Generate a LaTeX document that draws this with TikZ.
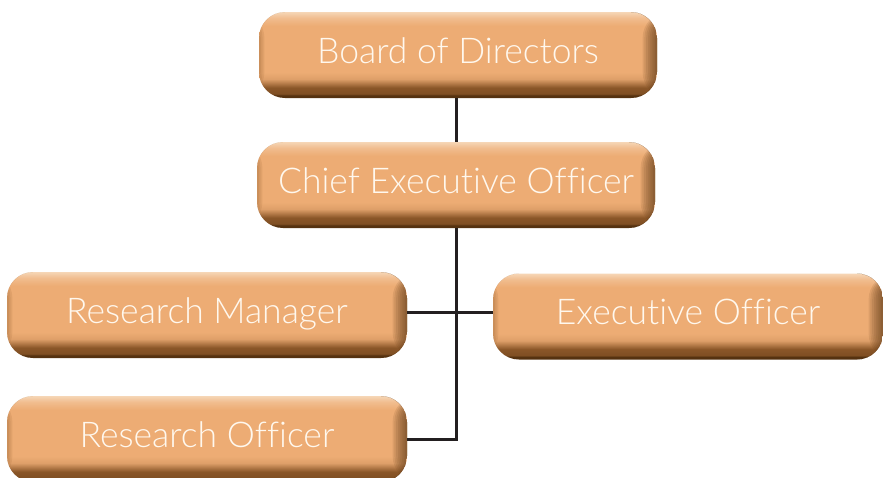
\documentclass[tikz,border=0pt]{standalone}
\usepackage{fontspec}
\setmainfont{Lato}[UprightFont={* Light},Ligatures=NoCommon]
\definecolor{boxmid}{HTML}{EDAC74}
\definecolor{boxtop}{HTML}{F6D6B6}
\definecolor{boxdark}{HTML}{553210}
\definecolor{boxbrown}{HTML}{8A5628}
\definecolor{linecol}{HTML}{231F20}
\definecolor{txtcol}{HTML}{FFF8EE}
\pgfdeclareverticalshading{boxshade}{100bp}{%
  color(0bp)=(boxdark); color(25bp)=(boxdark); color(26.5bp)=(boxdark);
  color(27.5bp)=(boxbrown!80!boxdark); color(31bp)=(boxbrown);
  color(36bp)=(boxmid!85!boxbrown); color(40bp)=(boxmid);
  color(67bp)=(boxmid); color(71.5bp)=(boxmid!60!boxtop);
  color(75bp)=(boxtop); color(100bp)=(boxtop)}
\tikzset{
  orgbox/.style={rectangle, rounded corners=26pt, minimum height=86pt,
    inner sep=0pt, shading=boxshade, text=txtcol, font=\fontsize{35.5}{40}\selectfont,
    path picture={
      \foreach \i in {1,...,8}
        \fill[boxdark, fill opacity=0.11]
          ([xshift=-1.8*\i pt]path picture bounding box.north east) rectangle
          (path picture bounding box.south east);
      \foreach \i in {1,...,3}
        \fill[boxbrown, fill opacity=0.12]
          (path picture bounding box.north west) rectangle
          ([xshift=1.8*\i pt]path picture bounding box.south west);
    }},
  conn/.style={draw=linecol, line width=3pt}
}
\begin{document}
\begin{tikzpicture}[x=1pt,y=-1pt]
\fill[white] (0,0) rectangle (883,477);
\useasboundingbox (0,0) rectangle (883,477);
\node[orgbox, minimum width=398pt] (bod) at (458,55) {\raisebox{8.5pt}{Board of Directors}};
\node[orgbox, minimum width=398pt] (ceo) at (456,185) {\raisebox{8.5pt}{Chief Executive Officer}};
\node[orgbox, minimum width=400pt] (rm) at (207,315) {\raisebox{8.5pt}{Research Manager}};
\node[orgbox, minimum width=390pt] (eo) at (688,316.5) {\raisebox{8.5pt}{Executive Officer}};
\node[orgbox, minimum width=400pt] (ro) at (207,439) {\raisebox{8.5pt}{Research Officer}};
\draw[conn] (ceo.north) -- (ceo.north |- bod.south);
\draw[conn] (ceo.south) -- (ceo.south |- ro.east) -- (ro.east);
\draw[conn] ([yshift=3pt]rm.east) -- ([yshift=3pt]rm.east -| eo.west);
\end{tikzpicture}
\end{document}
